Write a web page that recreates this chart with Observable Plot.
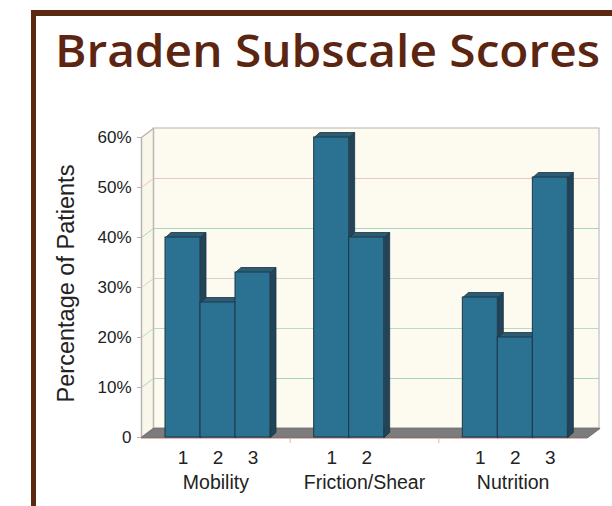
<!DOCTYPE html>
<html><head><meta charset="utf-8">
<script src="https://cdn.jsdelivr.net/npm/d3@7"></script>
<script src="https://cdn.jsdelivr.net/npm/@observablehq/plot@0.6"></script>
<style>
html,body{margin:0;padding:0;background:#fff;}
#wrap{position:relative;width:612px;height:506px;overflow:hidden;background:#fff;}
#frame{position:absolute;left:31px;top:10px;width:700px;height:600px;border-left:5px solid #5b2912;border-top:6px solid #5b2912;}
#title{position:absolute;left:55px;top:28px;font-family:"Open Sans",sans-serif;font-weight:600;font-size:45px;line-height:44px;color:#5b2511;white-space:nowrap;transform-origin:0 0;}
#chart{position:absolute;left:0;top:120px;}
</style></head><body>
<div id="wrap"><div id="frame"></div><div id="title">Braden Subscale Scores</div><div id="chart"></div></div>
<script>
// ---- data ----
const groups = ["Mobility", "Friction/Shear", "Nutrition"];
const scores = [["1", "2", "3"], ["1", "2"], ["1", "2", "3"]];
const values = [[40, 27, 33], [60, 40], [28, 20, 52]];
const yTicks = [0, 10, 20, 30, 40, 50, 60];
const gridLevels = [10, 20, 30, 40, 50];
const gridColors = ["#a9d3c9", "#b9d9cc", "#cdd6c8", "#a9d3c9", "#efc6bf"];

// ---- layout ----
const W = 612, H = 386, mL = 141, mR = 25, mT = 17, mB = 69;
const pxX = (W - mL - mR) / 3, pxY = (H - mT - mB) / 60;
const WX = 12 / pxX, WY = 9 / pxY;       // wall depth (data units)
const BX = 5.5 / pxX, BY = 5 / pxY;      // bar depth
const barOff = 24 / pxX, barW = 35 / pxX;

const bars = [];
groups.forEach((g, gi) => scores[gi].forEach((s, k) => {
  const x1 = gi + barOff + k * barW;
  bars.push({group: g, gi, score: s, value: values[gi][k], x1, x2: x1 + barW, id: g + s});
}));

const poly = (id, pts) => pts.concat([pts[0]]).map(([x, y]) => ({id, x, y}));
const tops = bars.flatMap(b => poly(b.id, [[b.x1, b.value], [b.x2, b.value], [b.x2 + BX, b.value + BY], [b.x1 + BX, b.value + BY]]));
const sides = bars.flatMap(b => poly(b.id, [[b.x2, 0], [b.x2, b.value], [b.x2 + BX, b.value + BY], [b.x2 + BX, BY]]));
const leftWall = poly("lw", [[0, 0], [0, 60], [WX, 60 + WY], [WX, WY]]);
const floor = poly("fl", [[0, 0], [3, 0], [3 + WX, WY], [WX, WY]]);

const chart = Plot.plot({
  width: W, height: H,
  marginLeft: mL, marginRight: mR, marginTop: mT, marginBottom: mB,
  x: {domain: [0, 3], axis: null},
  y: {domain: [0, 60]},
  color: {type: "identity"},
  style: {fontFamily: "Liberation Sans, Arial, sans-serif", color: "#222", background: "transparent", overflow: "visible"},
  marks: [
    // back wall
    Plot.rect([0], {x1: WX, x2: 3 + WX, y1: WY, y2: 60 + WY, fill: "#fdfaf0", stroke: "#b4b4b4"}),
    Plot.ruleY(gridLevels, {y: d => d + WY, x1: WX, x2: 3 + WX, stroke: (d, i) => gridColors[i]}),
    // left wall
    Plot.line(leftWall, {x: "x", y: "y", z: "id", fill: "#f9f6ea", stroke: "#b8b8b8"}),
    Plot.link(gridLevels, {x1: 0, y1: d => d, x2: WX, y2: d => d + WY, stroke: (d, i) => gridColors[i]}),
    Plot.ruleX([0], {y1: 0, y2: 60, stroke: "#b4b4b4"}),
    // floor
    Plot.line(floor, {x: "x", y: "y", z: "id", fill: "#7c7c7c", stroke: "#767676"}),
    // x axis line & group ticks
    Plot.ruleY([0], {x1: 0, x2: 3, stroke: "#e9b3b0", dy: 1}),
    Plot.ruleX([1, 2], {y1: 0, y2: -1, stroke: "#c0c0c0", dy: 1}),
    // bars
    Plot.line(sides, {x: "x", y: "y", z: "id", fill: "#22445a", stroke: "#1a3242", strokeWidth: 0.8}),
    Plot.line(tops, {x: "x", y: "y", z: "id", fill: "#2b5c72", stroke: "#1a3242", strokeWidth: 0.8}),
    Plot.rect(bars, {x1: "x1", x2: "x2", y1: 0, y2: "value", fill: "#2a7192", stroke: "#1d3848", strokeWidth: 1}),
    // y axis
    Plot.axisY(yTicks, {tickFormat: d => d === 0 ? "0" : d + "%", tickSize: 4, tickPadding: 6,
      stroke: "#e4a0a0", fill: "#222", fontSize: 17, label: null}),
    Plot.text(["Percentage of Patients"], {x: 0, y: 30, dx: -75, dy: -4, rotate: -90, text: d => d, fontSize: 23.5, fill: "#222"}),
    // x labels
    Plot.text(bars, {x: d => (d.x1 + d.x2) / 2, y: 0, dy: 20, text: "score", fontSize: 19, fill: "#222"}),
    Plot.text(groups, {x: (d, i) => i + 0.5, y: 0, dy: 45, text: d => d, fontSize: 19.5, fill: "#222"})
  ]
});
document.getElementById("chart").appendChild(chart);

// fit title width
const t = document.getElementById("title");
const w0 = t.getBoundingClientRect().width;
t.style.transform = "scaleX(" + (545 / w0) + ")";
</script>
</body></html>
